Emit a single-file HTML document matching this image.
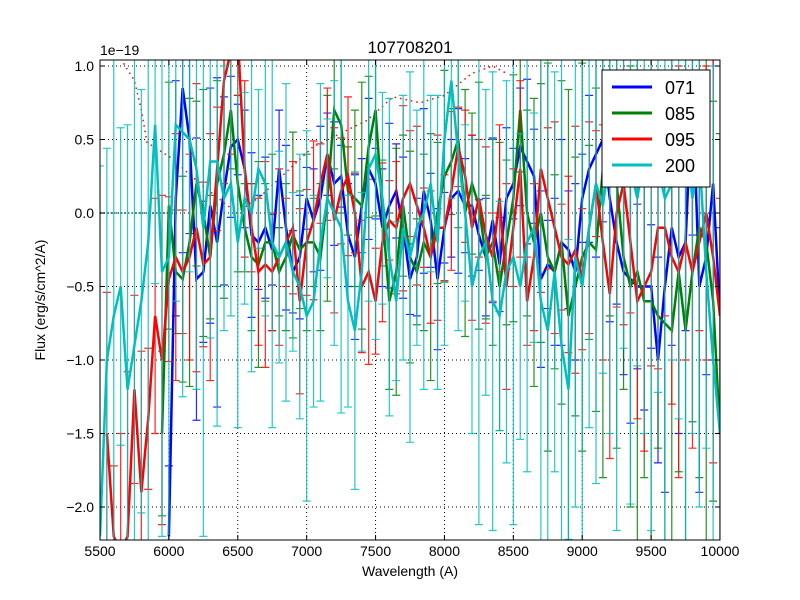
<!DOCTYPE html>
<html><head><meta charset="utf-8"><style>
html,body{margin:0;padding:0;background:#fff;overflow:hidden;width:800px;height:600px;}
svg{display:block;}
svg text{font-family:"Liberation Sans",sans-serif;}
</style></head><body>
<svg id="chart" width="800" height="600" xmlns="http://www.w3.org/2000/svg">
<rect width="800" height="600" fill="#fff"/>
<g id="grid"></g>
<defs><clipPath id="clip"><rect x="100" y="60" width="620" height="480"/></clipPath></defs>
<g id="plot" clip-path="url(#clip)"></g>
<rect x="100" y="60" width="620" height="480" fill="none" stroke="#000" stroke-width="1"/>
<g id="axes"></g>
<text x="410" y="53" text-anchor="middle" font-size="17">107708201</text>
<text x="100" y="55" font-size="14">1e−19</text>
<text x="410" y="576" text-anchor="middle" font-size="14">Wavelength (A)</text>
<text transform="translate(45,300) rotate(-90)" text-anchor="middle" font-size="14">Flux (erg/s/cm^2/A)</text>
<g id="legend"></g>
</svg>
<script>
const xTicks=[5500,6000,6500,7000,7500,8000,8500,9000,9500,10000];
const yTicks=[1.0,0.5,0.0,-0.5,-1.0,-1.5,-2.0];
const yTickLabels=["1.0","0.5","0.0","−0.5","−1.0","−1.5","−2.0"];
const wavelengths=[];for(let w=5500;w<=10000;w+=50)wavelengths.push(w);
const seriesNames=["071","085","095","200"];
const N=null;
const blue=[N,N,N,N,N,N,N,N,N,N,
-2.2,0.1,0.85,0.5,-0.45,-0.4,0.05,-0.2,0.15,0.45,
0.5,0.3,-0.15,-0.2,-0.1,-0.25,0.3,-0.1,-0.4,-0.3,
0.1,-0.05,0.1,0.4,0.2,0.25,-0.15,-0.3,0.05,0.3,
0.2,-0.1,0.05,0.15,-0.1,-0.45,-0.3,0.15,-0.05,-0.45,
-0.1,0.1,0.15,0.05,0.05,-0.15,-0.3,-0.05,-0.35,0.1,
0.2,0.45,0.35,0.25,-0.45,-0.35,-0.4,-0.2,-0.25,-0.4,
0.1,0.3,0.4,0.5,0.1,-0.2,-0.4,-0.45,-0.5,-0.5,
-0.5,-1.0,-0.5,-0.1,-0.3,-0.2,0.85,-0.5,-0.3,0.2,-0.7];
const green=[N,N,N,N,N,N,N,N,N,-1.5,
0.05,-0.4,-0.45,-0.2,0.2,0.0,-0.3,0.2,0.4,0.7,
0.2,-0.1,-0.3,-0.35,-0.2,-0.2,-0.4,-0.3,-0.15,-0.25,
-0.2,-0.2,-0.3,0.1,0.7,0.6,0.15,0.1,0.05,0.45,
0.7,0.0,-0.6,-0.4,0.05,-0.3,-0.4,-0.2,-0.3,0.0,
0.25,0.35,0.5,0.0,0.2,0.05,-0.3,-0.2,-0.5,-0.2,
0.1,0.7,0.0,-0.2,0.0,-0.3,-0.4,-0.2,-0.7,-0.5,
-0.3,-0.2,-0.25,0.3,0.5,0.2,-0.3,-0.5,-0.4,-0.6,
-0.6,-0.7,-0.75,-0.8,-0.4,-0.8,-0.4,-0.1,-0.2,-0.6,-1.5];
const red=[N,-1.5,-2.2,-2.3,-2.2,-1.2,-1.9,-1.4,-0.7,-1.0,
-0.45,-0.3,-0.4,-0.3,-0.1,-0.35,-0.3,0.3,0.9,1.1,
1.2,0.3,-0.1,-0.4,-0.35,-0.4,-0.3,-0.2,-0.1,-0.6,
-0.2,-0.05,0.2,0.4,-0.05,0.15,0.25,0.0,-0.5,-0.4,
-0.6,-0.2,-0.05,-0.1,0.1,0.2,0.05,-0.1,-0.3,-0.1,
-0.1,0.15,0.45,0.25,-0.1,0.1,-0.15,-0.3,0.1,-0.5,
-0.1,0.3,-0.6,-0.3,0.3,0.1,-0.1,-0.3,-0.35,-0.25,
-0.45,-0.1,0.2,-0.2,-0.55,0.0,0.2,-0.2,-0.6,-0.5,
-0.4,-0.1,-0.1,-0.3,-0.4,-0.2,-0.4,-0.2,0.0,-0.3,-0.7];
const cyan=[-2.2,-1.0,-0.7,-0.5,-1.2,-0.9,-0.6,-0.2,0.6,-0.4,
-0.3,0.6,0.55,0.5,0.3,-0.1,0.35,0.35,0.1,0.2,
-0.2,0.1,0.0,0.3,0.2,-0.2,-0.3,-0.2,-0.4,-0.5,
-0.7,-0.6,-0.2,0.1,0.0,-0.1,-0.6,-0.8,-0.4,0.3,
0.4,0.1,-0.3,-0.6,-0.1,-0.3,-0.1,0.0,0.2,-0.2,
0.5,0.9,0.4,0.0,-0.5,-0.3,-0.2,-0.6,-0.7,-0.4,
-0.3,-0.5,-0.2,-0.1,-0.6,-0.8,-0.4,-0.9,-1.2,-0.3,
-0.5,-0.1,0.2,0.05,0.4,0.5,0.6,0.3,0.1,0.4,
0.5,0.3,0.1,0.2,0.6,0.5,0.1,0.4,-0.4,-1.0,-1.5];
// error magnitude per 500 Å block (10 blocks)
const blueErr=[0.5,0.8,0.4,0.35,0.4,0.4,0.4,0.5,0.7,1.0];
const greenErr=[0.7,0.7,0.5,0.5,0.6,0.6,0.7,1.1,1.5,1.7];
const redErr=[0.8,0.7,0.5,0.45,0.45,0.45,0.5,0.6,0.8,1.0];
const cyanErr=[1.8,1.5,0.9,0.9,0.9,1.0,1.3,1.7,1.9,2.0];
const limitW=[5650,5750,5800,5841,6008,6226,6494,6661,7046,7438,7627,7823,8000,8200,8350,8450];
const limitF=[1.05,0.9,0.7,0.48,0.38,0.2,0.0,0.11,0.45,0.63,0.79,0.75,0.8,0.95,1.0,0.95];

const NS="http://www.w3.org/2000/svg";
const X=w=>100+(w-5500)*620/4500;
const Y=f=>213-(f)*147;
function mk(tag,attrs,parent){const e=document.createElementNS(NS,tag);for(const k in attrs)e.setAttribute(k,attrs[k]);parent.appendChild(e);return e;}
const grid=document.getElementById('grid'),plot=document.getElementById('plot'),axes=document.getElementById('axes'),leg=document.getElementById('legend');
xTicks.forEach(t=>{const x=X(t);
 const g=mk('line',{x1:x,x2:x,y1:60,y2:540,stroke:'#000','stroke-dasharray':'1,3','stroke-width':1},grid);
 
 const a=mk('line',{x1:x,x2:x,y1:540,y2:535,stroke:'#000'},axes);
 const b=mk('line',{x1:x,x2:x,y1:60,y2:65,stroke:'#000'},axes);
 const l=mk('text',{x:x,y:556,'text-anchor':'middle','font-size':14},axes);l.textContent=t;});
yTicks.forEach((t,i)=>{const y=Y(t);
 const g=mk('line',{x1:100,x2:720,y1:y,y2:y,stroke:'#000','stroke-dasharray':'1,3','stroke-width':1},grid);
 
 const a=mk('line',{x1:100,x2:105,y1:y,y2:y,stroke:'#000'},axes);
 const b=mk('line',{x1:715,x2:720,y1:y,y2:y,stroke:'#000'},axes);
 const l=mk('text',{x:94,y:y+5,'text-anchor':'end','font-size':14},axes);l.textContent=yTickLabels[i];});
const lim=mk('polyline',{points:limitW.map((w,i)=>X(w)+','+Y(limitF[i])).join(' '),fill:'none',stroke:'#f00','stroke-width':1.5,'stroke-dasharray':'1.5,4'},plot);

const zl=mk('line',{x1:X(5500),x2:X(6000),y1:Y(0),y2:Y(0),stroke:'#066','stroke-width':1.5,'stroke-dasharray':'1.5,2'},plot);

const series=[[blue,blueErr,'#00f'],[green,greenErr,'#008000'],[red,redErr,'#f00'],[cyan,cyanErr,'#00bfbf']];
series.forEach((s,si)=>{const [vals,errs,col]=s;
 const g=mk('g',{},plot);
 vals.forEach((v,i)=>{if(v===null)return;const e=errs[Math.min(9,Math.floor(i/9.1))]*(0.6+0.8*((i*7+si*3)%5)/4);
  const x=X(wavelengths[i]),y1=Y(v+e),y2=Y(v-e);
  const eb=mk('path',{d:`M${x},${y1}V${y2}M${x-4},${y1}H${x+4}M${x-4},${y2}H${x+4}`,stroke:col,'stroke-width':1.2,'stroke-opacity':0.85,fill:'none'},g);
  });
 let pts=[];vals.forEach((v,i)=>{if(v!==null)pts.push(X(wavelengths[i])+','+Y(v));});
 const ln=mk('polyline',{points:pts.join(' '),fill:'none',stroke:col,'stroke-width':2.5},g);
 });
const lb=mk('rect',{x:602,y:70,width:108,height:117,fill:'#fff',stroke:'#000'},leg);

const legCols=['#00f','#008000','#f00','#00bfbf'];
seriesNames.forEach((n,i)=>{const y=87+i*26;
 const l=mk('line',{x1:612,x2:652,y1:y,y2:y,stroke:legCols[i],'stroke-width':3},leg);
 const t=mk('text',{x:665,y:y+7,'font-size':18},leg);t.textContent=n;});
</script>
</body></html>
